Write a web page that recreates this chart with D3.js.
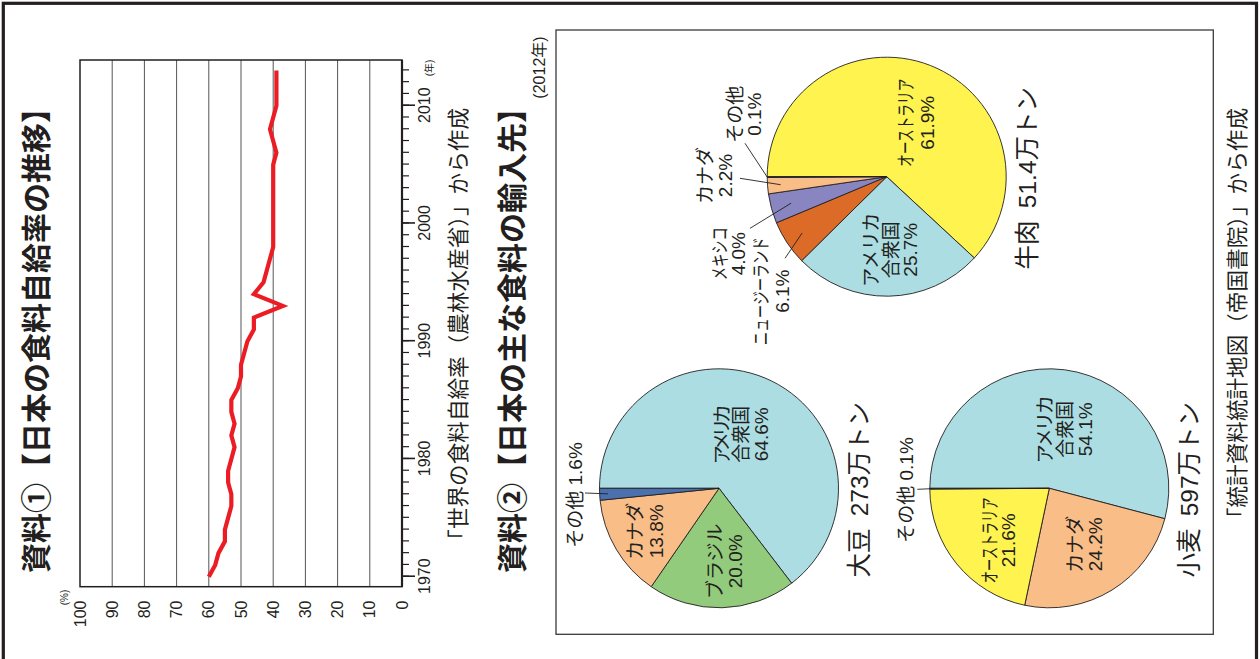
<!DOCTYPE html>
<html lang="ja"><head><meta charset="utf-8">
<script src="https://cdn.jsdelivr.net/npm/d3@7/dist/d3.min.js"></script>
<style>
html,body{margin:0;padding:0;background:#fff;}
svg{display:block;}
text{font-family:"Liberation Sans",Arial,"Noto Sans CJK JP",sans-serif;fill:#231f20;}
</style></head><body>
<svg id="chart" width="1260" height="659"></svg>
<script>
// ---------------- data ----------------
const years = [1970,1971,1972,1973,1974,1975,1976,1977,1978,1979,1980,1981,1982,1983,1984,1985,1986,1987,1988,1989,1990,1991,1992,1993,1994,1995,1996,1997,1998,1999,2000,2001,2002,2003,2004,2005,2006,2007,2008,2009,2010,2011,2012,2013];
const selfSufficiency = [60,58,57,55,55,54,53,53,54,54,53,52,53,52,53,53,51,50,50,49,48,46,46,37,46,43,42,41,40,40,40,40,40,40,40,40,39,40,41,40,39,39,39,39];
const percentTicks = [0,10,20,30,40,50,60,70,80,90,100];
const yearLabels = [1970,1980,1990,2000,2010];

const soyCountries = ["アメリカ合衆国","ブラジル","カナダ","その他"];
const soyShares = [64.6,20.0,13.8,1.6];
const wheatCountries = ["アメリカ合衆国","カナダ","オーストラリア","その他"];
const wheatShares = [54.1,24.2,21.6,0.1];
const beefCountries = ["オーストラリア","アメリカ合衆国","ニュージーランド","メキシコ","カナダ","その他"];
const beefShares = [61.9,25.7,6.1,4.0,2.2,0.1];
const pieNames = ["大豆","小麦","牛肉"];
const pieTotals = ["273","597","51.4"];

// ---------------- layout (unrotated frame: 659 wide x 1260 tall) ----------------
const ink = "#231f20";
const svg = d3.select("#chart");
const g = svg.append("g").attr("transform","translate(0,659) rotate(-90)");

function txt(parent, u, vc, s, fs, o = {}) {
  const t = parent.append("text")
    .attr("x", u).attr("y", vc + 0.35 * fs)
    .attr("font-size", fs)
    .attr("text-anchor", o.anchor || "middle")
    .text(s);
  if (o.weight) t.attr("font-weight", o.weight);
  if (o.family) t.style("font-family", o.family);
  if (o.w) t.attr("textLength", o.w).attr("lengthAdjust", o.adj || "spacingAndGlyphs");
  return t;
}

// outer frame
g.append("rect").attr("x",-10).attr("y",3.3).attr("width",665.7).attr("height",1253.2)
  .attr("fill","none").attr("stroke",ink).attr("stroke-width",3.2);

// ---------------- chart 1 ----------------
const titleFont = '"Noto Sans CJK JP","Liberation Sans",sans-serif';
txt(g, 86, 36, "資料①【日本の食料自給率の推移】", 30, {anchor:"start", weight:"bold", family:titleFont});

const x = d3.scaleLinear().domain([1970, 2010]).range([82.3, 553.3]);
const y = d3.scaleLinear().domain([0, 100]).range([402, 80]);
const plotL = 72.3, plotR = 599;

// gridlines
g.append("g").selectAll("line").data(percentTicks.filter(d => d > 0 && d < 100)).join("line")
  .attr("x1", plotL).attr("x2", plotR).attr("y1", d => y(d)).attr("y2", d => y(d))
  .attr("stroke","#555").attr("stroke-width",1);

// frame
g.append("rect").attr("x",plotL).attr("y",y(100)).attr("width",plotR-plotL).attr("height",y(0)-y(100))
  .attr("fill","none").attr("stroke",ink).attr("stroke-width",1.5);
g.append("line").attr("x1",plotL).attr("x2",plotR).attr("y1",y(0)).attr("y2",y(0))
  .attr("stroke",ink).attr("stroke-width",2.2);

// x axis (years)
const minorAxis = g.append("g").attr("transform",`translate(0,${y(0)})`)
  .call(d3.axisBottom(x).tickValues(years).tickSize(7).tickFormat(""));
minorAxis.select(".domain").remove();
minorAxis.selectAll("line").attr("stroke",ink).attr("stroke-width",1.2);
const majorAxis = g.append("g").attr("transform",`translate(0,${y(0)})`)
  .call(d3.axisBottom(x).tickValues(yearLabels).tickSize(13).tickPadding(3.3).tickFormat(d3.format("d")));
majorAxis.select(".domain").remove();
majorAxis.selectAll("line").attr("stroke",ink).attr("stroke-width",1.6);
majorAxis.selectAll("text").attr("font-size",16).attr("fill",ink)
  .style("font-family",'"Liberation Sans",Arial,sans-serif');
txt(g, 591, 429, "(年)", 10);

// y axis (percent)
const yAxis = g.append("g").attr("transform",`translate(${plotL},0)`)
  .call(d3.axisLeft(y).tickValues(percentTicks).tickSize(0).tickPadding(13.8));
yAxis.select(".domain").remove();
yAxis.selectAll("text").attr("font-size",16).attr("fill",ink)
  .style("font-family",'"Liberation Sans",Arial,sans-serif');
txt(g, 61.5, 64, "(%)", 10);

// line
const series = years.map((yr, i) => ({year: yr, rate: selfSufficiency[i]}));
g.append("path").datum(series)
  .attr("d", d3.line().x(d => x(d.year)).y(d => y(d.rate)))
  .attr("fill","none").attr("stroke","#ec1c24").attr("stroke-width",4.2)
  .attr("stroke-linejoin","miter").attr("stroke-linecap","butt");

txt(g, 551, 458, "「世界の食料自給率（農林水産省）」から作成", 21.6, {anchor:"end", family:titleFont});

// ---------------- chart 2 ----------------
txt(g, 86, 512, "資料②【日本の主な食料の輸入先】", 30, {anchor:"start", weight:"bold", family:titleFont});
txt(g, 591.5, 539, "(2012年)", 16);
g.append("rect").attr("x",24.7).attr("y",556).attr("width",604.3).attr("height",657.3)
  .attr("fill","none").attr("stroke","#3a3a3a").attr("stroke-width",1.3);
txt(g, 551, 1237, "「統計資料統計地図（帝国書院）」から作成", 21.6, {anchor:"end", family:titleFont});

const colorByCountry = {
  "アメリカ合衆国":"#acdde3","ブラジル":"#93cb7c","カナダ":"#f9bd87","オーストラリア":"#fff34f",
  "ニュージーランド":"#dc6b28","メキシコ":"#8985c0","その他":"#4a71ae"
};
const nameLines = {"アメリカ合衆国":["アメリカ","合衆国"]};

const pieR = 119.5;
const pies = [
  {name: pieNames[0], total: pieTotals[0], countries: soyCountries, shares: soyShares, cu: 170.7, cv: 719},
  {name: pieNames[1], total: pieTotals[1], countries: wheatCountries, shares: wheatShares, cu: 170.7, cv: 1049.3},
  {name: pieNames[2], total: pieTotals[2], countries: beefCountries, shares: beefShares, cu: 482.3, cv: 886.7}
];
const labelLayout = [
  { "アメリカ合衆国": {du:54, dv:3.5, lh:19.3, w:60, adj:"spacing"},
    "ブラジル": {du:-73, dv:-4, lh:20},
    "カナダ": {du:-43, dv:-84, lh:21},
    "その他": {du:-6.7, dv:-143.5, single:true, leader:{ou:-4.7, ov:-134, k:0.93}} },
  { "アメリカ合衆国": {du:59, dv:-3.8, lh:19.8, w:68, adj:"spacing"},
    "カナダ": {du:-56, dv:26.2, lh:19.5},
    "オーストラリア": {du:-52, dv:-59.3, lh:18.5, w:86},
    "その他": {du:-1.7, dv:-142.8, single:true, leader:{ou:-1, ov:-132, k:0.98}} },
  { "オーストラリア": {du:54, dv:19.8, lh:21, w:88},
    "アメリカ合衆国": {du:-73, dv:-15.2, lh:19.5, w:74, adj:"spacing"},
    "ニュージーランド": {du:-114.5, dv:-125.2, lh:20.5, w:108, leader:{ou:-81.6, ov:-101.7, k:0.85}},
    "メキシコ": {du:-77, dv:-166.2, lh:18, w:53, leader:{ou:-51.6, ov:-136.7, k:0.83}},
    "カナダ": {du:1.2, dv:-181.7, lh:20, leader:{ou:-1.6, ov:-146.7, k:0.89}},
    "その他": {du:62.5, dv:-151.7, lh:19, leader:{ou:33.4, ov:-141.7, k:1.0}} }
];

const pieGen = d3.pie().sort(null).value(d => d.share);
const arc = d3.arc().innerRadius(0).outerRadius(pieR);
const pctFmt = d => d3.format(".1f")(d) + "%";
const lfs = 19;

pies.forEach((p, pi) => {
  const data = p.countries.map((c, i) => ({country: c, share: p.shares[i]}));
  const arcs = pieGen(data);
  const pg = g.append("g").attr("transform", `translate(${p.cu},${p.cv})`);
  pg.selectAll("path").data(arcs).join("path")
    .attr("d", arc)
    .attr("fill", d => colorByCountry[d.data.country])
    .attr("stroke", ink).attr("stroke-width", 0.9).attr("stroke-linejoin","round");

  arcs.forEach(a => {
    const L = labelLayout[pi][a.data.country];
    if (!L) return;
    const pct = pctFmt(a.data.share);
    if (L.single) {
      txt(pg, L.du, L.dv, a.data.country + " " + pct, lfs);
    } else {
      const lines = (nameLines[a.data.country] || [a.data.country]).concat([pct]);
      lines.forEach((s, li) => {
        txt(pg, L.du, L.dv + li * L.lh, s, lfs, li === 0 && L.w ? {w: L.w, adj: L.adj} : {});
      });
    }
    if (L.leader) {
      const mid = (a.startAngle + a.endAngle) / 2;
      const r = pieR * L.leader.k;
      pg.append("line")
        .attr("x1", L.leader.ou).attr("y1", L.leader.ov)
        .attr("x2", Math.sin(mid) * r).attr("y2", -Math.cos(mid) * r)
        .attr("stroke", ink).attr("stroke-width", 0.9);
    }
  });

  txt(pg, -1.5, pieR + 21, p.name + "\u2002" + p.total + "万トン", 24.5, {family:'"Liberation Sans","Noto Sans CJK JP",sans-serif'});
});
</script>
</body></html>
